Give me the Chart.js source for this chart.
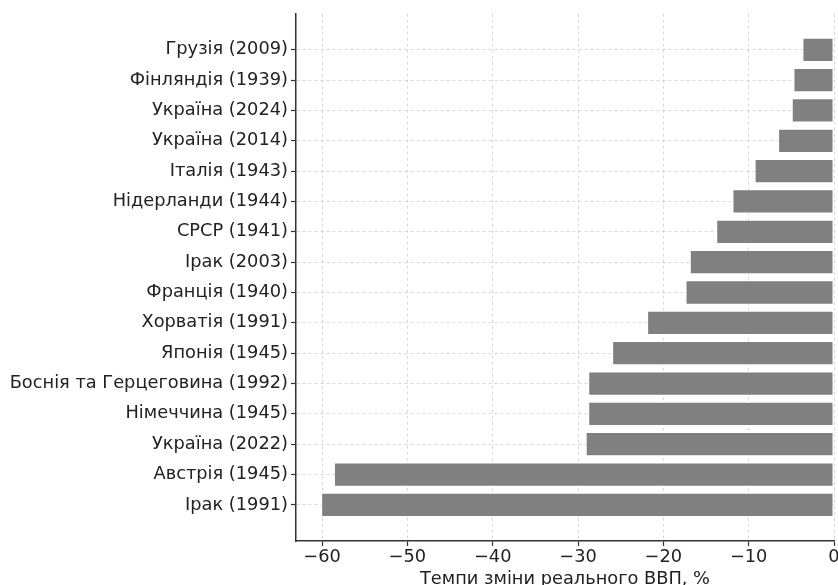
<!DOCTYPE html>
<html>
<head>
<meta charset="utf-8">
<script src="https://cdn.jsdelivr.net/npm/chart.js@4"></script>
<style>
  html, body { margin: 0; padding: 0; background: #fff; }
  #wrap { width: 838px; height: 585px; }
</style>
</head>
<body>
<div id="wrap"><canvas id="chart"></canvas></div>
<script>
  const countries = [
    'Грузія (2009)', 'Фінляндія (1939)', 'Україна (2024)', 'Україна (2014)',
    'Італія (1943)', 'Нідерланди (1944)', 'СРСР (1941)', 'Ірак (2003)',
    'Франція (1940)', 'Хорватія (1991)', 'Японія (1945)', 'Боснія та Герцеговина (1992)',
    'Німеччина (1945)', 'Україна (2022)', 'Австрія (1945)', 'Ірак (1991)'
  ];
  const gdpChange = [
    -3.7, -4.75, -4.95, -6.55, -9.3, -11.9, -13.8, -16.9,
    -17.4, -21.9, -26.0, -28.8, -28.8, -29.1, -58.6, -60.1
  ];
  const xTicks = [-60, -50, -40, -30, -20, -10, 0];
  const xTitle = 'Темпи зміни реального ВВП, %';

  const font = { family: 'DejaVu Sans', size: 17.8 };
  const gridColor = 'rgba(190,190,190,0.6)';
  const axisColor = '#333';

  new Chart(document.getElementById('chart'), {
    type: 'bar',
    data: {
      datasets: [{
        data: gdpChange.map((v, i) => ({ x: v, y: i })),
        backgroundColor: '#808080',
        borderColor: 'rgba(255,255,255,0.5)',
        borderWidth: 1,
        borderSkipped: false,
        barPercentage: 0.8,
        categoryPercentage: 1
      }]
    },
    options: {
      indexAxis: 'y',
      responsive: true,
      maintainAspectRatio: false,
      animation: false,
      layout: { padding: { top: 12, right: 4, left: 0, bottom: 0 } },
      plugins: { legend: { display: false }, tooltip: { enabled: false } },
      scales: {
        x: {
          type: 'linear',
          min: -63.05,
          max: 0,
          z: 1,
          afterBuildTicks: s => { s.ticks = xTicks.map(v => ({ value: v })); },
          afterFit: s => { s.height = 44; s.paddingLeft = 0; s.paddingRight = 0; },
          ticks: {
            color: '#222', font, padding: 1, maxRotation: 0, autoSkip: false,
            callback: v => String(v).replace('-', '\u2212')
          },
          grid: {
            color: gridColor, lineWidth: 1,
            tickColor: axisColor, tickLength: 5, tickWidth: 1.2, tickBorderDash: []
          },
          border: { display: true, color: axisColor, width: 1.5, dash: [3, 3] },
          title: { display: true, text: xTitle, color: '#222', font, padding: { top: 0, bottom: -5 } }
        },
        y: {
          type: 'linear',
          min: -1.19,
          max: 16.19,
          reverse: true,
          offset: false,
          z: 1,
          afterBuildTicks: s => { s.ticks = countries.map((c, i) => ({ value: i })); },
          afterFit: s => { s.width = 296; },
          ticks: {
            color: '#222', font, padding: 3, autoSkip: false,
            callback: v => countries[v]
          },
          grid: {
            offset: false,
            color: gridColor, lineWidth: 1,
            tickColor: axisColor, tickLength: 5, tickWidth: 1.2, tickBorderDash: []
          },
          border: { display: true, color: axisColor, width: 1.5, dash: [3, 3] }
        }
      }
    }
  });
</script>
</body>
</html>
